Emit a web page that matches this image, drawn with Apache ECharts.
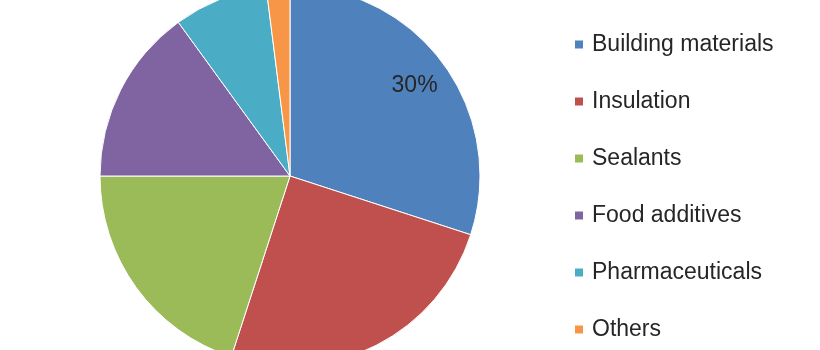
<!DOCTYPE html>
<html>
<head>
<meta charset="utf-8">
<style>html,body{margin:0;padding:0;background:#fff;}#chart{width:820px;height:350px;}</style>
<script src="https://cdn.jsdelivr.net/npm/echarts@6/dist/echarts.min.js"></script>
</head>
<body>
<div id="chart"></div>
<script>
const categories = ["Building materials", "Insulation", "Sealants", "Food additives", "Pharmaceuticals", "Others"];
const shares = [30, 25, 20, 15, 8, 2];
const colors = ["#4F81BD", "#C0504D", "#9BBB59", "#8064A2", "#4BACC6", "#F79646"];
const shownLabel = "30%";

const chart = echarts.init(document.getElementById('chart'), null, {renderer: 'canvas'});
const font = "'Liberation Sans', Arial, sans-serif";
chart.setOption({
  animation: false,
  color: colors,
  legend: {
    orient: 'vertical',
    left: 568,
    top: 28,
    height: 330,
    itemWidth: 10,
    itemHeight: 10,
    itemGap: 34,
    icon: 'rect',
    data: categories,
    selectedMode: false,
    textStyle: {fontFamily: font, fontSize: 23, color: '#262626', lineHeight: 23, padding: [0, 0, 0, 3]}
  },
  series: [
    {
      type: 'pie',
      center: [290, 176],
      radius: [0, 190],
      startAngle: 90,
      clockwise: true,
      silent: true,
      itemStyle: {borderColor: '#fff', borderWidth: 1},
      label: {show: false},
      labelLine: {show: false},
      data: categories.map((c, i) => ({name: c, value: shares[i]}))
    },
    {
      type: 'pie',
      center: [290, 176],
      radius: [0, 302],
      startAngle: 90,
      clockwise: true,
      silent: true,
      itemStyle: {color: 'rgba(0,0,0,0)'},
      labelLine: {show: false},
      data: categories.map((c, i) => ({
        name: c, value: shares[i],
        label: {
          show: i === 0, position: 'inside',
          formatter: shownLabel, fontFamily: font, fontSize: 23, color: '#262626'
        }
      }))
    }
  ]
});
</script>
</body>
</html>
